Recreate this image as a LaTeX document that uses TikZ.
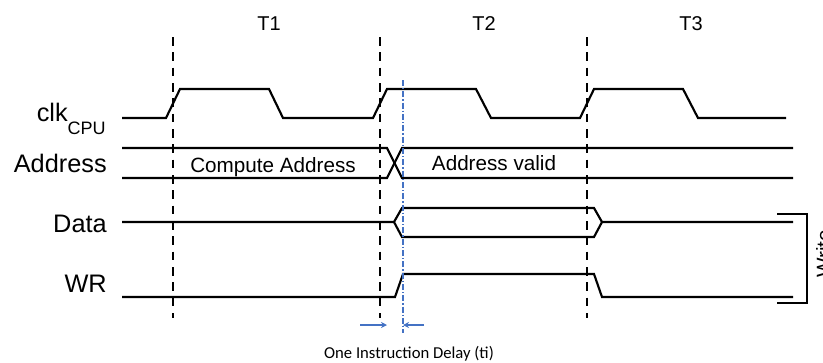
\documentclass[tikz,border=0pt]{standalone}
\usepackage{fontspec}
\setmainfont{Liberation Sans}
\newfontfamily\notefont{Carlito}
\usetikzlibrary{arrows.meta}
\definecolor{delayblue}{RGB}{68,114,196}

\begin{document}
\begin{tikzpicture}[x=0.75pt,y=0.75pt,yscale=-1,xscale=1,
  wave/.style={line width=1.6pt, line join=miter},
  cycleline/.style={line width=1.6pt, dash pattern=on 6.5pt off 5pt},
  delayline/.style={delayblue, line width=1.1pt, dash pattern=on 4.5pt off 1.5pt on 1pt off 1.5pt},
  delayarrow/.style={delayblue, line width=1.1pt, -{Stealth[length=4.5pt,width=4.5pt]}},
  signame/.style={inner sep=0pt, anchor=base east, font=\fontsize{19}{22}\selectfont},
  cyclename/.style={inner sep=0pt, anchor=base, font=\fontsize{15}{18}\selectfont},
  fieldname/.style={inner sep=0pt, anchor=base, font=\fontsize{15.5}{18}\selectfont}]
\useasboundingbox (0,0) rectangle (823,362);

%Cycle boundaries
\draw [cycleline] (173,37) -- (173,318) ;
\draw [cycleline] (380,37) -- (380,318) ;
\draw [cycleline] (587,37) -- (587,318) ;

%Clock
\draw [wave] (122,118) -- (166,118) -- (180,89) -- (269,89) -- (283,118) -- (373,118) -- (387,89) -- (476,89) -- (491,118) -- (580,118) -- (594,89) -- (683,89) -- (698,118) -- (786,118) ;
%Address bus
\draw [wave] (122,148) -- (387,148) -- (402,178) -- (793,178) ;
\draw [wave] (122,178) -- (387,178) -- (402,148) -- (793,148) ;
%Data bus
\draw [wave] (122,222) -- (394,222) -- (402,208) -- (594,208) -- (602,222) -- (793,222) ;
\draw [wave] (394,222) -- (402,237) -- (594,237) -- (602,222) ;
%Write strobe
\draw [wave] (122,297) -- (395,297) -- (403,274) -- (594,274) -- (602,297) -- (793,297) ;

%Bracket
\draw [line width=1.6pt] (777,214) -- (807,214) -- (807,303) -- (777,303) ;

%Delay marker
\coordinate (ti top) at (403,80) ;
\coordinate (ti bottom) at (403,333) ;
\coordinate (from left) at (360,325) ;
\coordinate (left tip) at (387,325) ;
\coordinate (from right) at (424,325) ;
\coordinate (right tip) at (403,325) ;
\draw [delayline] (ti top) -- (ti bottom) ;
\draw [delayarrow] (from left) -- (left tip) ;
\draw [delayarrow] (from right) -- (right tip) ;

% Text Node
\node [cyclename] (t1) at (269,30) {T1};
\node [cyclename] (t2) at (484,30) {T2};
\node [cyclename] (t3) at (691,30) {T3};
% Text Node
\node [signame] (clk) at (106,121) {clk\raisebox{-9.75pt}{\fontsize{13.5}{16}\selectfont CPU}};
\node [signame] (address) at (107,172) {Address};
\node [signame] (data) at (107,232) {Data};
\node [signame] (wr) at (107,292) {WR};
% Text Node
\node [fieldname] (compute) at (273,172) {Compute Address};
\node [fieldname] (valid) at (494,170) {Address valid};
% Text Node
\node [fieldname, rotate=90] (write) at (831,254) {Write};
\node [inner sep=0pt, anchor=base, font=\notefont\fontsize{12.5}{15}\selectfont] (delay) at (409,358) {One Instruction Delay (ti)};

\end{tikzpicture}
\end{document}
